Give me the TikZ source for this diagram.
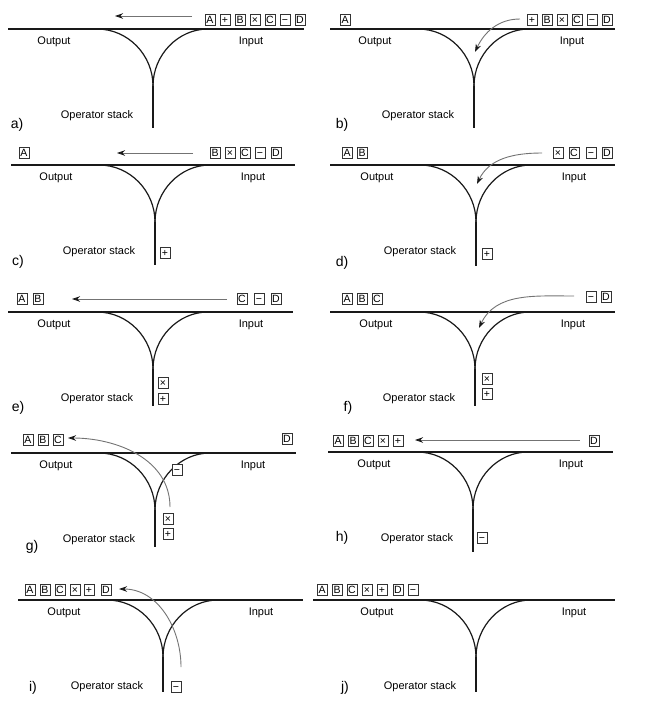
\documentclass[tikz,border=0pt]{standalone}
\usepackage{fontspec}
\setmainfont{Liberation Sans}
\usetikzlibrary{arrows.meta}
\tikzset{
  track/.style={line width=1.2pt, black!90, line cap=butt},
  tok/.style={draw=black!80, line width=0.6pt, minimum width=10pt, minimum height=11pt, inner xsep=0.3pt, inner ysep=1.7pt, text height=7.6pt, text depth=0pt, font=\fontsize{10.5}{10.5}\selectfont},
  lbl/.style={font=\fontsize{11}{12}\selectfont},
  plabel/.style={font=\fontsize{14}{14}\selectfont},
  move/.style={draw=black!55, line width=0.9pt, -{Stealth[length=8pt,width=5.5pt,black!90]}},
}
\newcommand\trackpanel[8]{%
  \coordinate (#1L) at (#4,#3);
  \coordinate (#1R) at (#5,#3);
  \coordinate (#1S) at (#2,{#3+57});
  \coordinate (#1B) at (#2,#8);
  \draw[track] (#1L) -- (#1R);
  \draw[track] ({#2-56},#3) .. controls ({#2-25},#3) and (#2,{#3+26}) .. (#1S);
  \draw[track] ({#2+55},#3) .. controls ({#2+25},#3) and (#2,{#3+26}) .. (#1S);
  \draw[track] (#1S) -- (#1B);
  \node[lbl] (#1out) at ({#2-99},{#3+13}) {Output};
  \node[lbl] (#1in) at ({#2+98},{#3+13}) {Input};
  \node[lbl] (#1op) at ({#2-56},{#3+87}) {Operator stack};
  \node[plabel] (#1lab) at (#6,#7) {#1)};
}
\begin{document}
\begin{tikzpicture}[x=1pt,y=-1pt]
\useasboundingbox (0,0) rectangle (650,726);
% ---------- a
\trackpanel{a}{153}{29}{8}{304}{17}{125}{128}
\node[tok] (aA) at (210,20) {A};
\node[tok] (aP) at (225,20) {+};
\node[tok] (aB) at (240,20) {B};
\node[tok] (aX) at (255,20) {×};
\node[tok] (aC) at (270,20) {C};
\node[tok] (aM) at (285,20) {−};
\node[tok] (aD) at (300,20) {D};
\coordinate (as) at (192,16);
\coordinate (ae) at (115,16);
\draw[move] (as) -- (ae);
% ---------- b
\trackpanel{b}{474}{29}{330}{615}{342}{125}{128}
\node[tok] (bA) at (345,20) {A};
\node[tok] (bP) at (532,20) {+};
\node[tok] (bB) at (547,20) {B};
\node[tok] (bX) at (562,20) {×};
\node[tok] (bC) at (577,20) {C};
\node[tok] (bM) at (592,20) {−};
\node[tok] (bD) at (607,20) {D};
\coordinate (bs) at (520,19);
\coordinate (be) at (475,52);
\draw[move] (bs) to[out=180,in=65] (be);
% ---------- c
\trackpanel{c}{155}{165}{11}{295}{18}{262}{265}
\node[tok] (cA) at (24,153) {A};
\node[tok] (cB) at (215,153) {B};
\node[tok] (cX) at (230,153) {×};
\node[tok] (cC) at (245,153) {C};
\node[tok] (cM) at (260,153) {−};
\node[tok] (cD) at (276,153) {D};
\node[tok] (cP) at (165,253) {+};
\coordinate (cs) at (193,153);
\coordinate (ce) at (117,153);
\draw[move] (cs) -- (ce);
% ---------- d
\trackpanel{d}{476}{165}{330}{615}{342}{263}{266}
\node[tok] (dA) at (347,153) {A};
\node[tok] (dB) at (362,153) {B};
\node[tok] (dX) at (558,153) {×};
\node[tok] (dC) at (574,153) {C};
\node[tok] (dM) at (591,153) {−};
\node[tok] (dD) at (607,153) {D};
\node[tok] (dP) at (487,254) {+};
\coordinate (ds) at (542,153);
\coordinate (de) at (477,184);
\draw[move] (ds) to[out=180,in=65] (de);
% ---------- e
\trackpanel{e}{153}{312}{8}{293}{18}{408}{406}
\node[tok] (eA) at (22,299) {A};
\node[tok] (eB) at (38,299) {B};
\node[tok] (eC) at (242,299) {C};
\node[tok] (eM) at (259,299) {−};
\node[tok] (eD) at (276,299) {D};
\node[tok] (eX) at (163,383) {×};
\node[tok] (eP) at (163,399) {+};
\coordinate (es) at (227,299);
\coordinate (ee) at (72,299);
\draw[move] (es) -- (ee);
% ---------- f
\trackpanel{f}{475}{312}{330}{615}{348}{408}{406}
\node[tok] (fA) at (347,299) {A};
\node[tok] (fB) at (362,299) {B};
\node[tok] (fC) at (377,299) {C};
\node[tok] (fM) at (591,297) {−};
\node[tok] (fD) at (606,297) {D};
\node[tok] (fX) at (487,379) {×};
\node[tok] (fP) at (487,394) {+};
\coordinate (fs) at (574,296);
\coordinate (fe) at (479,328);
\draw[move] (fs) to[out=180,in=65] (fe);
% ---------- g
\trackpanel{g}{155}{453}{11}{296}{32}{547}{547}
\node[tok] (gA) at (28,440) {A};
\node[tok] (gB) at (43,440) {B};
\node[tok] (gC) at (58,440) {C};
\node[tok] (gD) at (287,439) {D};
\node[tok,fill=white] (gM) at (177,470) {−};
\node[tok] (gX) at (168,519) {×};
\node[tok] (gP) at (168,534) {+};
\coordinate (gs) at (170,507);
\coordinate (ge) at (68,438);
\draw[move] (gs) to[out=90,in=0] (ge);
% ---------- h
\trackpanel{h}{473}{452}{328}{613}{342}{538}{552}
\node[tok] (hA) at (338,441) {A};
\node[tok] (hB) at (353,441) {B};
\node[tok] (hC) at (368,441) {C};
\node[tok] (hX) at (383,441) {×};
\node[tok] (hP) at (398,441) {+};
\node[tok] (hD) at (594,441) {D};
\node[tok] (hM) at (482,538) {−};
\coordinate (hs) at (580,440);
\coordinate (he) at (415,440);
\draw[move] (hs) -- (he);
% ---------- i
\trackpanel{i}{163}{600}{18}{303}{33}{688}{692}
\node[tok] (iA) at (30,590) {A};
\node[tok] (iB) at (45,590) {B};
\node[tok] (iC) at (60,590) {C};
\node[tok] (iX) at (75,590) {×};
\node[tok] (iP) at (89,590) {+};
\node[tok] (iD) at (106,590) {D};
\node[tok] (iM) at (176,687) {−};
\coordinate (is) at (181,667);
\coordinate (ie) at (119,589);
\draw[move] (is) to[out=90,in=0] (ie);
% ---------- j
\trackpanel{j}{476}{600}{313}{615}{345}{688}{692}
\node[tok] (jA) at (322,590) {A};
\node[tok] (jB) at (337,590) {B};
\node[tok] (jC) at (352,590) {C};
\node[tok] (jX) at (367,590) {×};
\node[tok] (jP) at (382,590) {+};
\node[tok] (jD) at (398,590) {D};
\node[tok] (jM) at (413,590) {−};
\end{tikzpicture}
\end{document}
